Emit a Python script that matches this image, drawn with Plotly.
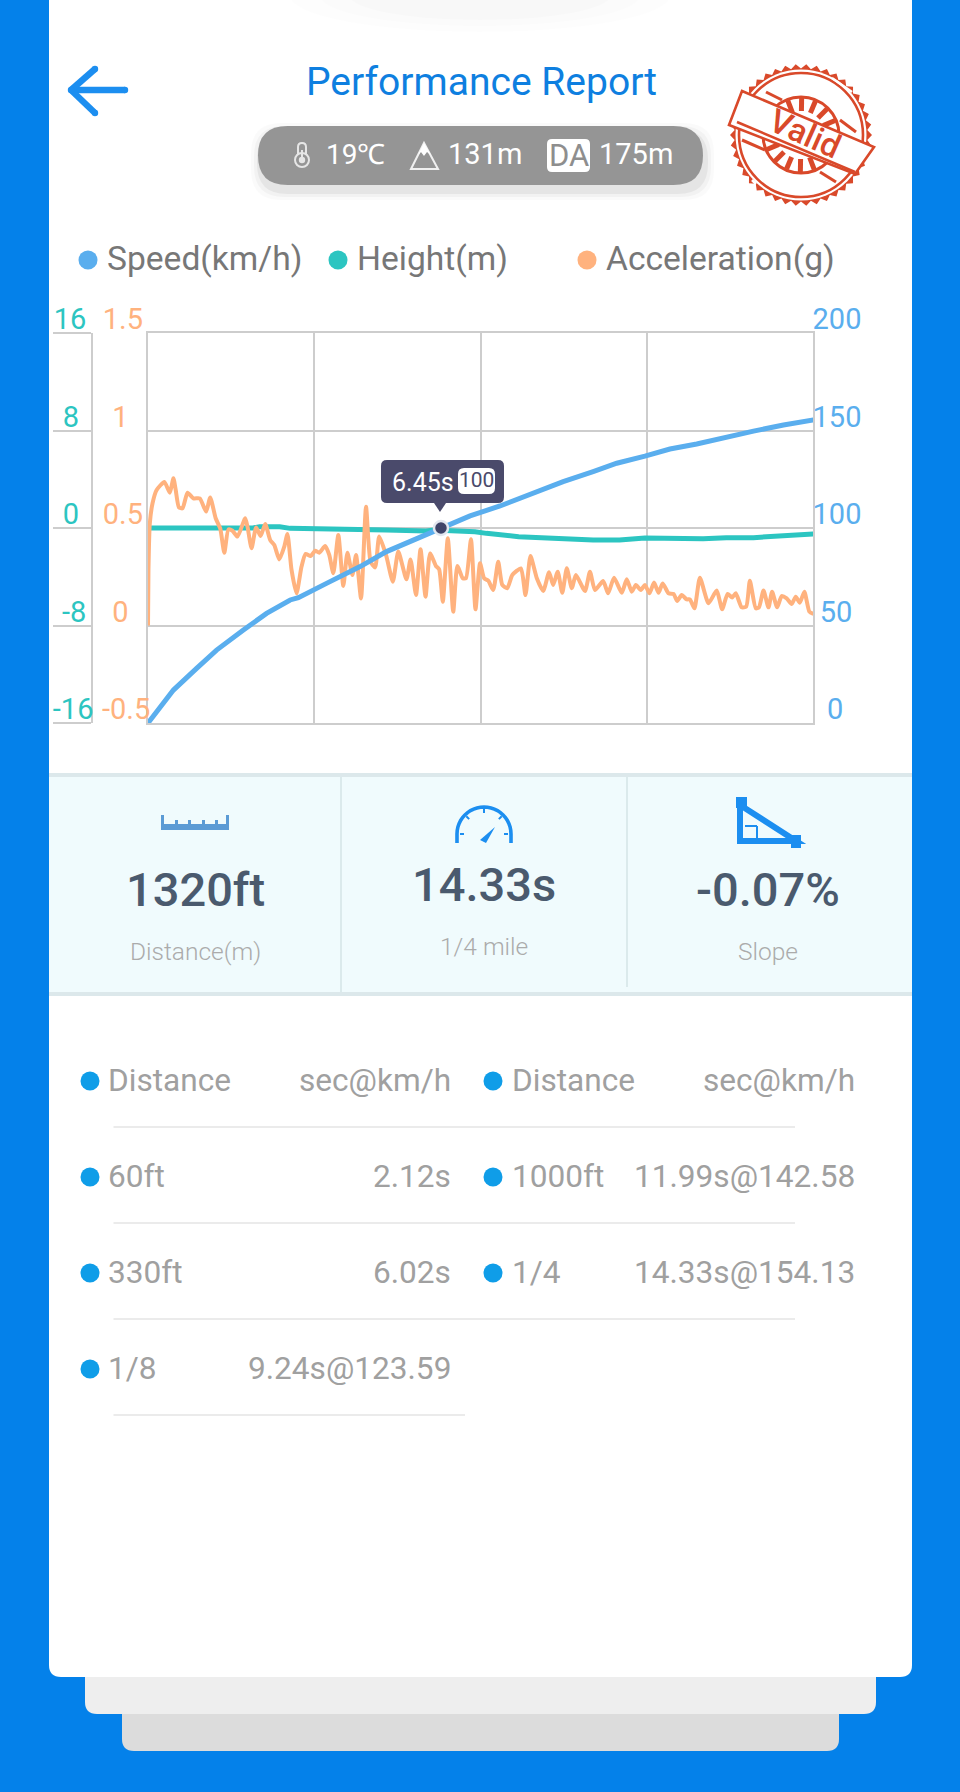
import math

import plotly.graph_objects as go

W = 960
H = 1792

# chart data
speed_t = [0.0, 0.56, 1.07, 1.51, 2.10, 2.61, 3.13, 3.31, 3.93, 4.67, 5.25, 5.84, 6.45, 7.09, 7.75, 8.26, 8.52,
           9.14, 9.80, 10.32, 10.94, 11.49, 12.08, 12.59, 13.33, 13.99, 14.65]
speed_kmh = [0.0, 16.9, 28.0, 37.4, 47.7, 56.2, 63.1, 64.3, 71.6, 80.2, 87.9, 93.8, 100.0, 106.2, 111.3, 116.1,
             118.6, 123.8, 128.9, 133.2, 136.9, 140.5, 143.1, 146.0, 149.7, 152.8, 155.4]

height_t = [0.0, 2.31, 2.46, 2.90, 3.13, 4.80, 5.24, 6.12, 6.30, 7.20, 7.45, 8.16, 8.72, 8.87, 9.39, 9.80, 10.38,
            10.94, 12.22, 12.73, 13.33, 14.06, 14.65]
height_m = [0.0, 0.0, 0.11, 0.11, -0.03, -0.08, -0.16, -0.25, -0.16, -0.30, -0.44, -0.71, -0.79, -0.88, -0.88,
            -0.98, -0.98, -0.82, -0.88, -0.79, -0.79, -0.66, -0.49]

accel_t = [0.0, 0.01, 0.04, 0.10, 0.19, 0.36, 0.48, 0.56, 0.61, 0.68, 0.76, 0.87, 1.00, 1.14, 1.28, 1.37, 1.49,
           1.59, 1.68, 1.77, 1.86, 1.97, 2.14, 2.19, 2.28, 2.38, 2.48, 2.58, 2.69, 2.78, 2.89, 3.00, 3.07, 3.16,
           3.27, 3.38, 3.47, 3.58, 3.68, 3.77, 3.90, 3.99, 4.08, 4.19, 4.30, 4.39, 4.50, 4.58, 4.69, 4.80, 4.90,
           5.00, 5.09, 5.24, 5.39, 5.51, 5.69, 5.78, 5.90, 6.00, 6.11, 6.21, 6.34, 6.41, 6.49, 6.60, 6.72, 6.81,
           6.93, 7.00, 7.11, 7.21, 7.31, 7.40, 7.49, 7.60, 7.71, 7.80, 7.91, 8.02, 8.21, 8.31, 8.42, 8.56, 8.70,
           8.83, 8.92, 9.02, 9.12, 9.22, 9.33, 9.42, 9.62, 9.73, 9.84, 10.02, 10.13, 10.26, 10.43, 10.54, 10.65,
           10.74, 10.85, 10.94, 11.04, 11.14, 11.24, 11.33, 11.46, 11.57, 11.65, 11.75, 11.86, 11.93, 12.03,
           12.15, 12.34, 12.52, 12.64, 12.76, 12.86, 12.94, 13.07, 13.17, 13.25, 13.38, 13.45, 13.55, 13.66,
           13.74, 13.85, 13.95, 14.06, 14.17, 14.26, 14.35, 14.45, 14.56, 14.65]
accel_g = [0.0, 0.285, 0.524, 0.627, 0.695, 0.736, 0.681, 0.755, 0.695, 0.606, 0.601, 0.681, 0.652, 0.652, 0.584,
           0.657, 0.550, 0.498, 0.373, 0.493, 0.486, 0.456, 0.550, 0.507, 0.396, 0.503, 0.459, 0.521, 0.438, 0.413,
           0.339, 0.404, 0.469, 0.285, 0.165, 0.302, 0.367, 0.356, 0.384, 0.373, 0.408, 0.362, 0.268, 0.464, 0.203,
           0.373, 0.259, 0.362, 0.139, 0.609, 0.327, 0.298, 0.456, 0.362, 0.225, 0.379, 0.237, 0.339, 0.156, 0.391,
           0.148, 0.370, 0.305, 0.288, 0.122, 0.447, 0.071, 0.305, 0.242, 0.242, 0.442, 0.083, 0.319, 0.242, 0.230,
           0.182, 0.327, 0.208, 0.191, 0.259, 0.293, 0.156, 0.356, 0.242, 0.177, 0.273, 0.208, 0.276, 0.168, 0.293,
           0.191, 0.259, 0.177, 0.276, 0.182, 0.228, 0.165, 0.245, 0.168, 0.237, 0.173, 0.208, 0.182, 0.208, 0.165,
           0.220, 0.168, 0.216, 0.165, 0.162, 0.126, 0.156, 0.134, 0.134, 0.088, 0.245, 0.114, 0.179, 0.083, 0.162,
           0.144, 0.165, 0.093, 0.097, 0.230, 0.088, 0.093, 0.179, 0.093, 0.173, 0.093, 0.151, 0.139, 0.110, 0.148,
           0.117, 0.173, 0.071, 0.059]

marker_t = [6.45]
marker_speed = [100]

speed_ticks = [0, 50, 100, 150, 200]
speed_tick_text = ["\u00a0\u00a00", "\u00a050", "100", "150", "200"]
accel_ticks = [-0.5, 0, 0.5, 1, 1.5]
accel_tick_text = ["-0.5", "0\u00a0\u00a0\u00a0", "0.5\u00a0", "1\u00a0\u00a0\u00a0", "1.5\u00a0"]
height_ticks = [-16, -8, 0, 8, 16]
height_tick_text = ["-16", "-8\u00a0", "0\u00a0\u00a0", "8\u00a0\u00a0", "16\u00a0"]
time_ticks = [0, 3.66, 7.32, 10.98, 14.64]

stats_values = ["1320ft", "14.33s", "-0.07%"]
stats_labels = ["Distance(m)", "1/4 mile", "Slope"]

left_names = ["Distance", "60ft", "330ft", "1/8"]
left_values = ["sec@km/h", "2.12s", "6.02s", "9.24s@123.59"]
right_names = ["Distance", "1000ft", "1/4"]
right_values = ["sec@km/h", "11.99s@142.58", "14.33s@154.13"]

BLUE_BG = "#0481EA"
SPEED = "#5AAEEE"
HEIGHT = "#2CC5C1"
ACCEL = "#FFB27E"
GRID = "#CDCDCD"
STAMP = "#D9492A"
ICON = "#1C8EF0"
FONT = "Roboto"

shapes = []
notes = []


def px(x):
    return x / W


def py(y):
    return 1 - y / H


def pt(x, y):
    return f"{px(x):.5f},{py(y):.5f}"


def add_path(d, fill=None, line=None, width=0, layer="below"):
    shapes.append(dict(type="path", path=d, xref="paper", yref="paper", layer=layer,
                       fillcolor=fill or "rgba(0,0,0,0)",
                       line=dict(color=line or "rgba(0,0,0,0)", width=width)))


def poly(points, closed=True):
    d = "M" + " L".join(pt(x, y) for x, y in points)
    return d + (" Z" if closed else "")


def rrect(x0, y0, x1, y1, r, fill, layer="below", line=None, width=0):
    d = (f"M{pt(x0 + r, y0)} L{pt(x1 - r, y0)} Q{pt(x1, y0)} {pt(x1, y0 + r)} "
         f"L{pt(x1, y1 - r)} Q{pt(x1, y1)} {pt(x1 - r, y1)} L{pt(x0 + r, y1)} "
         f"Q{pt(x0, y1)} {pt(x0, y1 - r)} L{pt(x0, y0 + r)} Q{pt(x0, y0)} {pt(x0 + r, y0)} Z")
    add_path(d, fill, line, width, layer)


def rect(x0, y0, x1, y1, fill, layer="below"):
    shapes.append(dict(type="rect", xref="paper", yref="paper", x0=px(x0), x1=px(x1), y0=py(y0), y1=py(y1),
                       fillcolor=fill, line=dict(width=0), layer=layer))


def circle(cx, cy, r, fill=None, line=None, width=0, layer="below"):
    shapes.append(dict(type="circle", xref="paper", yref="paper", x0=px(cx - r), x1=px(cx + r),
                       y0=py(cy - r), y1=py(cy + r), fillcolor=fill or "rgba(0,0,0,0)",
                       line=dict(color=line or "rgba(0,0,0,0)", width=width), layer=layer))


def seg(x0, y0, x1, y1, color, width, layer="below"):
    shapes.append(dict(type="line", xref="paper", yref="paper", x0=px(x0), x1=px(x1), y0=py(y0), y1=py(y1),
                       line=dict(color=color, width=width), layer=layer))


def text(x, y, s, size, color, anchor="center", weight=None, angle=0, family=FONT):
    font = dict(family=family, size=size, color=color)
    if weight:
        font["weight"] = weight
    notes.append(dict(x=px(x), y=py(y), xref="paper", yref="paper", text=s, showarrow=False, xanchor=anchor,
                      yanchor="middle", font=font, textangle=angle, borderpad=0))


# page and stacked cards
rrect(122, 1640, 839, 1751, 12, "#DCDCDC")
rrect(85, 1640, 876, 1714, 12, "#EEEEEE")
rrect(49, -20, 912, 1677, 12, "#FFFFFF")
for r_x, r_y, alpha in [(190, 36, 0.006), (160, 30, 0.008), (130, 24, 0.010)]:
    shapes.append(dict(type="circle", xref="paper", yref="paper", x0=px(480 - r_x), x1=px(480 + r_x),
                       y0=py(-4 - r_y), y1=py(-4 + r_y), fillcolor=f"rgba(0,0,0,{alpha})",
                       line=dict(width=0), layer="below"))

# header
seg(72, 90, 125, 90, ICON, 6.5)
seg(71, 90, 95, 69, ICON, 6.5)
seg(71, 90, 95, 113, ICON, 6.5)
for ax, ay in [(125, 90), (95, 69), (95, 113), (71, 90)]:
    circle(ax, ay, 3.2, ICON)
text(481, 82, "Performance Report", 39, "#0E7FE0")

for grow, alpha in [(9, 0.02), (6, 0.03), (3, 0.05)]:
    rrect(258 - grow + 2, 126 + 6 - grow, 703 + grow + 2, 185 + 6 + grow, 30, f"rgba(0,0,0,{alpha})")
rrect(258, 126, 703, 185, 29.5, "#959595")

# thermometer
rrect(298, 143, 306, 160, 4, "#959595", line="#E6E6E6", width=2)
circle(302, 160, 7, "#959595", "#E6E6E6", 2)
circle(302, 160, 3.2, "#E6E6E6")
seg(302, 150, 302, 160, "#E6E6E6", 2)
text(355, 154, "19\u2103", 28, "#FFFFFF")

# mountain
add_path(poly([(411, 169), (424, 143), (438, 169)]), None, "#F0F0F0", 2)
add_path(poly([(418, 155), (424, 143), (431, 155), (427, 152), (424, 156), (421, 152)]), "#FFFFFF")
text(485, 154, "131m", 29, "#FFFFFF")

# DA badge
rrect(547, 139, 590, 172, 5, "#FFFFFF")
text(568.5, 156, "DA", 31, "#8E8E8E")
text(636, 154, "175m", 29, "#FFFFFF")

# stamp
SC_X, SC_Y = 801, 135
teeth = []
for i in range(84):
    a = i / 84 * 2 * math.pi
    rad = 71 if i % 2 == 0 else 66.5
    teeth.append((SC_X + rad * math.cos(a), SC_Y + rad * math.sin(a)))
add_path(poly(teeth), STAMP, layer="above")
circle(SC_X, SC_Y, 65.5, "#FFFFFF", layer="above")
circle(SC_X, SC_Y, 62, None, STAMP, 2.6, layer="above")
circle(SC_X, SC_Y, 38, None, STAMP, 3, layer="above")
for k in range(-2, 3):
    for base in (-90 + 23, 90 + 23):
        a = math.radians(base + k * 22)
        seg(SC_X + 24 * math.cos(a), SC_Y + 24 * math.sin(a), SC_X + 37 * math.cos(a), SC_Y + 37 * math.sin(a),
            STAMP, 5, layer="above")
add_path(poly([(742, 91), (874, 147), (855, 174), (729, 125)]), "#FFFFFF", STAMP, 2.6, layer="above")
seg(737, 122, 855, 172, STAMP, 2.6, layer="above")
for sx, sy, ex, ey in [(766, 92, 782, 100), (742, 140, 765, 150), (840, 120, 856, 132), (820, 172, 836, 182)]:
    seg(sx, sy, ex, ey, STAMP, 3, layer="above")
for sx, sy, ex, ey in [(832, 78, 852, 92), (752, 180, 756, 184)]:
    seg(sx, sy, ex, ey, "#FFFFFF", 2.5, layer="above")
text(805, 134, "Valid", 33, STAMP, angle=24, weight=500)

# legend row
for lx, color, name in [(88, SPEED, "Speed(km/h)"), (338, HEIGHT, "Height(m)"), (587, ACCEL, "Acceleration(g)")]:
    circle(lx, 260, 9.5, color)
    text(lx + 18, 258, name, 33.6, "#777777", anchor="left")

# stats strip
rect(49, 773, 912, 996, "#DCE8EB")
rect(49, 777, 912, 992, "#F0FBFD")
seg(341, 777, 341, 992, "#D5E4E6", 1.5)
seg(627, 777, 627, 987, "#D5E4E6", 1.5)
for cx, vy, ly, value, label in zip([195, 484, 768], [889, 884, 889], [951, 946, 951], stats_values, stats_labels):
    text(cx, vy, value, 47, "#4A5A6E", weight=500)
    text(cx, ly, label, 24.5, "#ABABAB", weight=300)

# ruler icon
rect(161, 824, 229, 830, "#5B9BD5")
for tx, top in [(161, 815), (175, 820), (188, 820), (202, 820), (215, 820), (226, 815)]:
    rect(tx, top, tx + 3, 828, "#5B9BD5")

# gauge icon
arc = []
for i in range(0, 25):
    a = math.radians(180 + i * 7.5)
    arc.append((484 + 27 * math.cos(a), 834 + 27 * math.sin(a)))
arc = [(457, 843)] + arc + [(511, 843)]
add_path(poly(arc, closed=False), None, ICON, 3.6)
add_path(poly([(480, 840), (495, 827), (486, 843)]), ICON)
for deg in (225, 270, 315):
    a = math.radians(deg)
    seg(484 + 21 * math.cos(a), 834 + 21 * math.sin(a), 484 + 25 * math.cos(a), 834 + 25 * math.sin(a), ICON, 2)
seg(460, 834, 464, 834, ICON, 2)
seg(504, 834, 508, 834, ICON, 2)

# slope icon
rect(736, 797, 747, 808, ICON)
add_path(poly([(740, 805), (796, 841), (740, 841)]), None, ICON, 6)
seg(745, 826, 757, 826, ICON, 2)
seg(757, 826, 757, 838, ICON, 2)
rect(791, 835, 801, 848, ICON)

# result table
row_y = [1081, 1177, 1273, 1369]
for y, name, value in zip(row_y, left_names, left_values):
    circle(90, y, 9.5, "#0F9DE8")
    text(107, y - 1, name, 31.6, "#A0A0A0", anchor="left")
    text(452, y - 1, value, 31.6, "#A0A0A0", anchor="right")
for y, name, value in zip(row_y, right_names, right_values):
    circle(493, y, 9.5, "#0F9DE8")
    text(511, y - 1, name, 31.6, "#A0A0A0", anchor="left")
    text(856, y - 1, value, 31.6, "#A0A0A0", anchor="right")
for y, x1 in [(1127, 795), (1223, 795), (1319, 795), (1415, 465)]:
    seg(113.5, y, x1, y, "#E4E4E4", 1.5)

# tooltip
rrect(381, 460, 504, 503, 6, "#4A4A6B", layer="above")
add_path(poly([(434, 503), (446, 503), (440, 512)]), "#4A4A6B", layer="above")
rrect(458, 468, 495, 494, 6, "#FFFFFF", layer="above")
text(423, 482, "6.45s", 25, "#FFFFFF")
text(476.5, 480, "100", 21, "#4A4A6B")

fig = go.Figure()
fig.add_trace(go.Scatter(x=height_t, y=height_m, name="Height(m)", mode="lines", yaxis="y",
                         line=dict(color=HEIGHT, width=5)))
fig.add_trace(go.Scatter(x=accel_t, y=accel_g, name="Acceleration(g)", mode="lines", yaxis="y2",
                         line=dict(color=ACCEL, width=4, shape="spline", smoothing=0.55)))
fig.add_trace(go.Scatter(x=speed_t, y=speed_kmh, name="Speed(km/h)", mode="lines", yaxis="y3",
                         line=dict(color=SPEED, width=5)))
fig.add_trace(go.Scatter(x=marker_t, y=marker_speed, mode="markers", yaxis="y3", showlegend=False,
                         marker=dict(size=14, color="#3F4468", line=dict(color="#E2E7EF", width=2.5))))

tick_font = dict(family=FONT, size=29)
fig.update_layout(
    width=W,
    height=H,
    margin=dict(l=0, r=0, t=0, b=0, autoexpand=False),
    paper_bgcolor=BLUE_BG,
    plot_bgcolor="rgba(0,0,0,0)",
    showlegend=False,
    shapes=shapes,
    annotations=notes,
    xaxis=dict(domain=[px(148), px(813)], range=[0, 14.64], tickvals=time_ticks, showticklabels=False, ticks="",
               showgrid=True, gridcolor=GRID, gridwidth=1.5, zeroline=False, showline=True, linecolor=GRID,
               linewidth=1.5, mirror=True, automargin=False),
    yaxis=dict(domain=[py(723), py(333)], range=[-16, 16], anchor="free", position=px(92), tickvals=height_ticks,
               ticktext=height_tick_text, tickfont=dict(color=HEIGHT, **tick_font), ticks="outside", ticklen=38,
               tickwidth=1.5, tickcolor=GRID, ticklabelshift=-14, ticklabelstandoff=-46, showgrid=True,
               gridcolor=GRID, gridwidth=1.5, zeroline=False, showline=True, linecolor=GRID, linewidth=1.5,
               automargin=False),
    yaxis2=dict(range=[-0.5, 1.5], overlaying="y", anchor="x", side="left", tickvals=accel_ticks,
                ticktext=accel_tick_text, tickfont=dict(color=ACCEL, **tick_font), ticks="", ticklabelshift=-14,
                ticklabelstandoff=-10, showgrid=False, zeroline=False, showline=True, linecolor=GRID, linewidth=2,
                automargin=False),
    yaxis3=dict(range=[0, 200], overlaying="y", anchor="x", side="right", tickvals=speed_ticks,
                ticktext=speed_tick_text, tickfont=dict(color=SPEED, **tick_font), ticks="", ticklabelshift=-14,
                ticklabelstandoff=-8, showgrid=False, zeroline=False, showline=True, linecolor=GRID, linewidth=1.5,
                automargin=False),
)

fig.write_html("out.html", config=dict(displayModeBar=False),
               post_script="document.body.style.margin='0';document.documentElement.style.overflow='hidden';")
